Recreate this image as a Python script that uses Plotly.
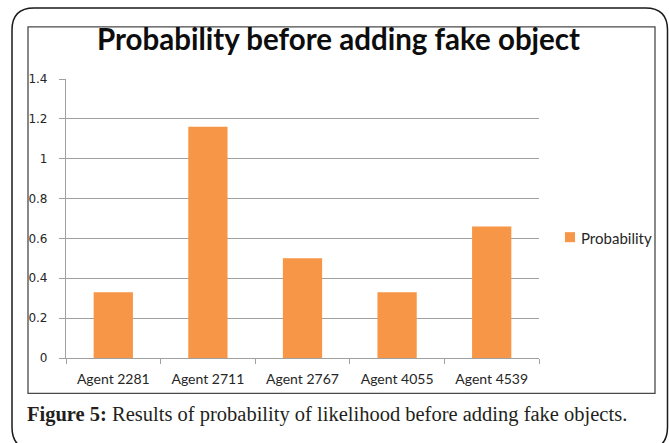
import plotly.graph_objects as go

# Chart data
agents = ["Agent 2281", "Agent 2711", "Agent 2767", "Agent 4055", "Agent 4539"]
probability = [0.33, 1.16, 0.50, 0.33, 0.66]
series_name = "Probability"
y_ticks = [0, 0.2, 0.4, 0.6, 0.8, 1.0, 1.2, 1.4]
y_tick_text = ["0", "0.2", "0.4", "0.6", "0.8", "1", "1.2", "1.4"]

W, H = 669, 443
# plot area in pixels
PL, PR, PT, PB = 66, 539, 79, 357.7


def px(x):
    return (x - PL) / (PR - PL)


def py(y):
    return (PB - y) / (PB - PT)


GRID = "#a0a0a0"
TEXT = "#262626"
BAR = "#F79646"

fig = go.Figure()
fig.add_trace(go.Bar(
    x=agents, y=probability, name=series_name,
    marker=dict(color=BAR, line=dict(width=0)),
    showlegend=False,
))

fig.update_layout(
    width=W, height=H,
    margin=dict(l=PL, r=W - PR, t=PT, b=H - PB, pad=0),
    paper_bgcolor="white", plot_bgcolor="white",
    bargap=0.585,
    xaxis=dict(
        type="category",
        showgrid=False,
        showline=True, linecolor=GRID, linewidth=1.2,
        ticks="outside", tickson="boundaries", ticklen=5, tickcolor=GRID,
        tickfont=dict(family="Lato", size=14, color=TEXT),
        ticklabelstandoff=8,
    ),
    yaxis=dict(
        range=[0, 1.4],
        tickvals=y_ticks, ticktext=y_tick_text,
        showgrid=True, gridcolor=GRID, gridwidth=1.2,
        showline=True, linecolor=GRID, linewidth=1.2,
        zeroline=False,
        ticks="outside", ticklen=6, tickcolor=GRID,
        tickfont=dict(family="DejaVu Sans", size=12, color=TEXT),
        ticklabelstandoff=9,
    ),
)

# legend entry: swatch + label
fig.add_shape(
    type="rect", xref="paper", yref="paper",
    x0=px(565), x1=px(575), y0=py(242), y1=py(232),
    fillcolor=BAR, line=dict(width=0),
)
fig.add_annotation(
    text=series_name,
    xref="paper", yref="paper", x=px(579), y=py(237.5),
    xanchor="left", yanchor="middle", showarrow=False,
    font=dict(family="Lato", size=15, color=TEXT),
)

# chart title
fig.add_annotation(
    text="<b>Probability before adding fake object</b>",
    xref="paper", yref="paper", x=px(338), y=py(39),
    xanchor="center", yanchor="middle", showarrow=False,
    font=dict(family="Lato", size=29.5, color="#0d0d0d"),
)

# figure caption
fig.add_annotation(
    text="<b>Figure 5:</b> Results of probability of likelihood before adding fake objects.",
    xref="paper", yref="paper", x=px(25), y=py(414),
    xanchor="left", yanchor="middle", showarrow=False,
    font=dict(family="Liberation Serif", size=20.5, color="#231f20"),
)

# inner chart frame
fig.add_shape(
    type="rect", xref="paper", yref="paper",
    x0=px(28), x1=px(655), y0=py(393), y1=py(27),
    line=dict(color="#4a4a4a", width=1.3), layer="above",
)

# outer rounded frame
L, R, T, B, r = 12, 667.5, 8, 449, 22
path = (
    f"M {px(L + r)} {py(T)} L {px(R - r)} {py(T)} "
    f"Q {px(R)} {py(T)} {px(R)} {py(T + r)} "
    f"L {px(R)} {py(B - r)} Q {px(R)} {py(B)} {px(R - r)} {py(B)} "
    f"L {px(L + r)} {py(B)} Q {px(L)} {py(B)} {px(L)} {py(B - r)} "
    f"L {px(L)} {py(T + r)} Q {px(L)} {py(T)} {px(L + r)} {py(T)} Z"
)
fig.add_shape(
    type="path", xref="paper", yref="paper", path=path,
    line=dict(color="#1a1a1a", width=1.5), layer="above",
)

fig.write_html("out.html")
